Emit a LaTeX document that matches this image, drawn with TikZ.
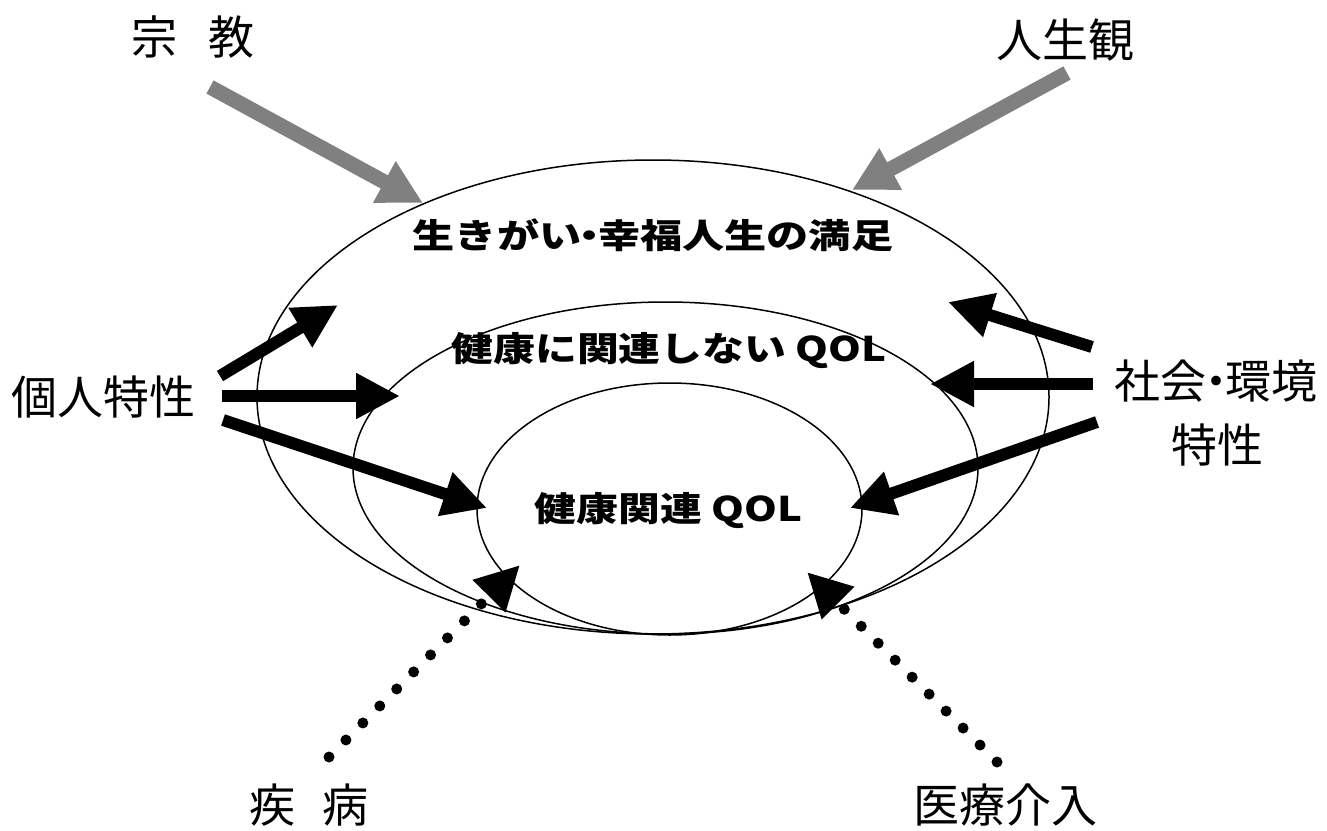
\documentclass[tikz,border=0pt]{standalone}
\usepackage{fontspec}
\setmainfont{Noto Sans CJK JP}
\usetikzlibrary{arrows.meta,shapes.geometric}
\newcommand{\narrowdot}{\kern-0.3em・\kern-0.3em}
\begin{document}
\begin{tikzpicture}[x=1pt,y=-1pt,
  ring/.style={ellipse, draw, line width=1.5pt, inner sep=0pt, outer sep=0pt},
  lbl/.style={font=\fontsize{46}{50}\selectfont, inner sep=0pt},
  inlbl/.style={font=\fontsize{34}{37}\selectfont\bfseries, inner sep=0pt},
  bigarrow/.style={line width=12pt, -{Triangle[length=44pt,width=43pt]}},
  grayarrow/.style={line width=15pt, draw=gray, -{Triangle[length=44pt,width=44pt]}},
  dotarrow/.style={line width=11pt, line cap=round, dash pattern=on 0pt off 24pt, -{Triangle[length=44pt,width=43pt]}}]
\useasboundingbox (0,0) rectangle (1327,830);
\fill[white] (0,0) rectangle (1327,830);
% ellipses
\node[ring, minimum width=792pt, minimum height=474pt] (outer) at (653,397) {};
\node[ring, minimum width=625pt, minimum height=332pt] (middle) at (665.5,468) {};
\node[ring, minimum width=385pt, minimum height=252pt] (inner) at (669.5,509) {};
% inner labels
\node[inlbl] (ikigai) at (653,235) {\scalebox{1.24}[1]{生きがい\narrowdot 幸福人生の満足}};
\node[inlbl] (nonhq) at (669,351) {\scalebox{1.23}[1]{健康に関連しない QOL}};
\node[inlbl] (hq) at (668.5,511) {\scalebox{1.23}[1]{健康関連 QOL}};
% outer labels
\node[lbl] (shukyo) at (193,37) {宗\hspace{31pt}教};
\node[lbl] (jinseikan) at (1065,40) {人生観};
\node[lbl] (kojin) at (103.5,397) {個人特性};
\node[lbl] (shakai) at (1216,381) {社会\narrowdot 環境};
\node[lbl] (tokusei) at (1217,445) {特性};
\node[lbl] (shippei) at (309,805) {疾\hspace{28pt}病};
\node[lbl] (iryo) at (1005,805) {医療介入};
% arrow end points
\coordinate (gLs) at (210,87);   \coordinate (gLe) at (423,203);
\coordinate (gRs) at (1067,73);  \coordinate (gRe) at (852,190);
\coordinate (l1s) at (220,376);  \coordinate (l1e) at (338,305);
\coordinate (l2s) at (222,396);  \coordinate (l2e) at (400,396);
\coordinate (l3s) at (223,420);  \coordinate (l3e) at (487,508);
\coordinate (r1s) at (1092,347); \coordinate (r1e) at (948,302);
\coordinate (r2s) at (1093,384); \coordinate (r2e) at (930,384);
\coordinate (r3s) at (1097,422); \coordinate (r3e) at (850,508);
\coordinate (dLs) at (329,757);  \coordinate (dLe) at (520,565);
\coordinate (dRs) at (997,762);  \coordinate (dRe) at (807,572);
% arrows
\draw[grayarrow] (gLs) -- (gLe);
\draw[grayarrow] (gRs) -- (gRe);
\draw[bigarrow] (l1s) -- (l1e);
\draw[bigarrow] (l2s) -- (l2e);
\draw[bigarrow] (l3s) -- (l3e);
\draw[bigarrow] (r1s) -- (r1e);
\draw[bigarrow] (r2s) -- (r2e);
\draw[bigarrow] (r3s) -- (r3e);
\draw[dotarrow] (dLs) -- (dLe);
\draw[dotarrow] (dRs) -- (dRe);
\end{tikzpicture}
\end{document}
